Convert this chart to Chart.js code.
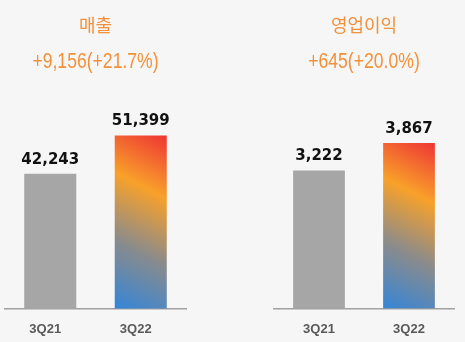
<!DOCTYPE html>
<html>
<head>
<meta charset="utf-8">
<script src="https://cdn.jsdelivr.net/npm/chart.js@4"></script>
<style>
    html, body { margin: 0; padding: 0; }
    body { width: 465px; height: 342px; background: #f6f6f6; position: relative; overflow: hidden; }
    .panel { position: absolute; top: 0; height: 350px; }
    #sales-box { left: 0; width: 232px; }
    #profit-box { left: 232px; width: 233px; }
</style>
</head>
<body>
<div class="panel" id="sales-box"><canvas id="sales"></canvas></div>
<div class="panel" id="profit-box"><canvas id="profit"></canvas></div>
<script>
const quarters = ['3Q21', '3Q22'];
const sales = [42243, 51399];
const profit = [3222, 3867];
const salesTitle = '매출';
const salesChange = '+9,156(+21.7%)';
const profitTitle = '영업이익';
const profitChange = '+645(+20.0%)';

const orange = '#f3913a';
const grey = '#a6a6a6';
const barPct = 0.575;

// blue -> grey -> orange -> red, running from the bottom-left corner up to the top-right
const barGradient = (context) => {
    const chart = context.chart;
    const { ctx, chartArea, scales } = chart;
    if (!chartArea || !scales.x || !scales.y) {
        return grey;
    }
    const cx = scales.x.getPixelForValue(context.dataIndex);
    const half = chartArea.width / quarters.length * barPct / 2;
    const x0 = cx - half, x1 = cx + half;
    const yb = scales.y.getPixelForValue(scales.y.min);
    const yt = scales.y.getPixelForValue(context.raw);
    if (![x0, x1, yb, yt].every(Number.isFinite)) {
        return grey;
    }
    const dx = 0.46, dy = -0.89;
    const len = (x1 - x0) * dx + (yb - yt) * -dy;
    const g = ctx.createLinearGradient(x0, yb, x0 + len * dx, yb + len * dy);
    g.addColorStop(0, '#3585d8');
    g.addColorStop(0.35, '#8b8b8b');
    g.addColorStop(0.68, '#f8a12a');
    g.addColorStop(1, '#ee3434');
    return g;
};

const barColor = (context) => context.dataIndex === 0 ? grey : barGradient(context);

// value written above each bar
const valueLabels = {
    id: 'valueLabels',
    afterDatasetsDraw(chart) {
        const ctx = chart.ctx;
        ctx.save();
        ctx.font = 'bold 15px "DejaVu Sans"';
        ctx.fillStyle = '#111';
        ctx.textAlign = 'center';
        ctx.textBaseline = 'middle';
        chart.getDatasetMeta(0).data.forEach((bar, i) => {
            const v = chart.data.datasets[0].data[i];
            ctx.fillText(v.toLocaleString('en-US'), bar.x, bar.y - 14);
        });
        ctx.restore();
    }
};

// year-on-year change under the title, set in a narrowed face
const changeLine = {
    id: 'changeLine',
    afterDraw(chart, args, opts) {
        const ctx = chart.ctx;
        const t = chart.titleBlock;
        const cx = (t.left + t.right) / 2;
        ctx.save();
        ctx.font = '22px "Liberation Sans"';
        ctx.fillStyle = orange;
        ctx.textAlign = 'center';
        ctx.textBaseline = 'middle';
        ctx.translate(cx, 62);
        ctx.scale(0.8, 1);
        ctx.fillText(opts.text, 0, 0);
        ctx.restore();
    }
};

const makeConfig = (values, title, change, yMin, yMax, padLeft, padRight, tickShift) => ({
    type: 'bar',
    data: {
        labels: quarters,
        datasets: [{
            data: values,
            backgroundColor: barColor,
            barPercentage: barPct,
            categoryPercentage: 1
        }]
    },
    options: {
        responsive: false,
        animation: false,
        layout: {
            padding: { left: padLeft, right: padRight, top: 0, bottom: 0 }
        },
        plugins: {
            legend: { display: false },
            tooltip: { enabled: false },
            title: {
                display: true,
                text: title,
                color: orange,
                font: { family: '"Noto Sans CJK KR"', size: 18, weight: 'normal', lineHeight: 1.2 },
                padding: { top: 14, bottom: 64 }
            },
            changeLine: { text: change }
        },
        scales: {
            x: {
                grid: { display: false, drawTicks: false },
                border: { display: true, color: '#a0a0a0', width: 1.5 },
                ticks: {
                    color: '#595959',
                    padding: 13,
                    labelOffset: tickShift,
                    font: { family: '"Liberation Sans"', size: 13, weight: 'bold' }
                }
            },
            y: {
                display: false,
                min: yMin,
                max: yMax
            }
        }
    },
    plugins: [valueLabels, changeLine]
});

window.onload = function () {
    const salesCanvas = document.querySelector('#sales');
    salesCanvas.width = 232; salesCanvas.height = 350;
    const profitCanvas = document.querySelector('#profit');
    profitCanvas.width = 233; profitCanvas.height = 350;
    const salesChart = new Chart(salesCanvas.getContext('2d'),
        makeConfig(sales, salesTitle, salesChange, 10000, 60000, 5, 46, -5));
    const profitChart = new Chart(profitCanvas.getContext('2d'),
        makeConfig(profit, profitTitle, profitChange, 0, 4880, 42, 11, 0));
};
</script>
</body>
</html>
